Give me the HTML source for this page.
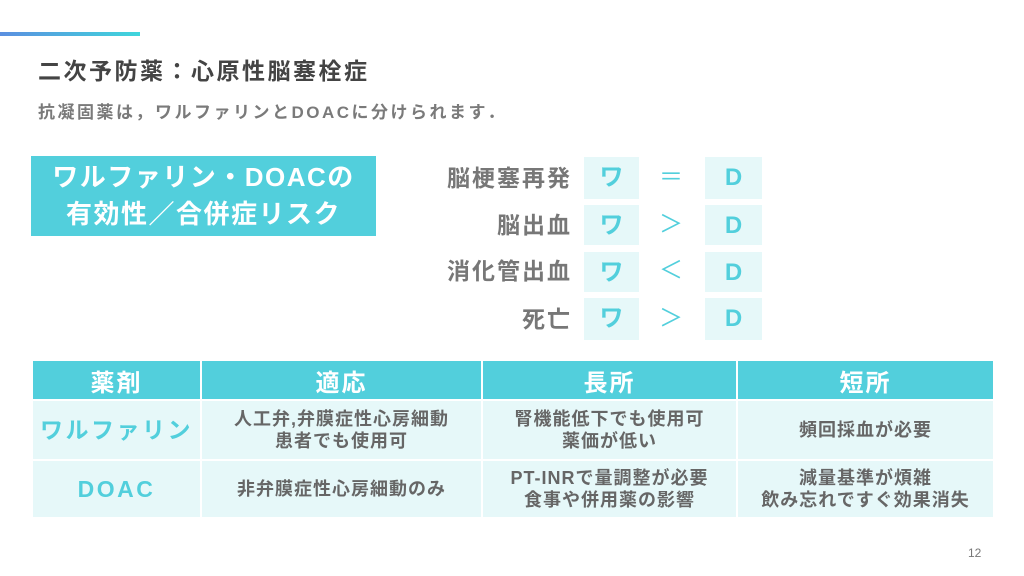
<!DOCTYPE html>
<html><head><meta charset="utf-8"><style>
body{margin:0;width:1024px;height:576px;background:#fff;position:relative;overflow:hidden;font-family:"Liberation Sans","Noto Sans CJK JP",sans-serif;}
.a{position:absolute}
.bar{left:0;top:32px;width:140px;height:4px;background:linear-gradient(90deg,#5b8fe0,#3fd6dc)}
.t{left:38px;top:52px;font-size:23px;font-weight:bold;color:#444;letter-spacing:2.5px}
.s{left:38px;top:98px;font-size:17px;font-weight:bold;color:#7a7a7a;letter-spacing:2.5px}
.box{left:31px;top:156px;width:345px;height:80px;background:#52cfdc;color:#fff;font-size:26px;font-weight:bold;text-align:center;line-height:37px;padding-top:3px;box-sizing:border-box;letter-spacing:1.5px}
.lab{width:200px;left:372px;text-align:right;font-size:23px;font-weight:bold;color:#777;line-height:42px;letter-spacing:2px}
.c{background:#e6f8f9;color:#52cfdc;font-size:24px;font-weight:bold;text-align:center;line-height:42px}
.sg{color:#52cfdc;font-size:24px;width:40px;left:651px;text-align:center;line-height:42px}
table{position:absolute;left:31px;top:359px;border-collapse:collapse;width:962px;table-layout:fixed}
td{border:2px solid #fff;text-align:center;padding:0;color:#666;font-weight:bold;font-size:18px;line-height:22px;background:#e6f8f9;letter-spacing:1px}
th{border:2px solid #fff;background:#52cfdc;color:#fff;font-size:24px;height:38px;font-weight:bold;padding:0;letter-spacing:2px}
.n{color:#52cfdc;font-size:23px;letter-spacing:2.5px}
</style></head><body>
<div class="a bar"></div>
<div class="a t">二次予防薬：心原性脳塞栓症</div>
<div class="a s">抗凝固薬は，ワルファリンとDOACに分けられます．</div>
<div class="a box">ワルファリン・DOACの<br>有効性／合併症リスク</div>

<div class="a lab" style="top:157px">脳梗塞再発</div>
<div class="a lab" style="top:204px">脳出血</div>
<div class="a lab" style="top:250px">消化管出血</div>
<div class="a lab" style="top:298px">死亡</div>

<div class="a c" style="left:584px;top:157px;width:55px;height:42px">ワ</div>
<div class="a c" style="left:584px;top:205px;width:55px;height:40px">ワ</div>
<div class="a c" style="left:584px;top:252px;width:55px;height:40px">ワ</div>
<div class="a c" style="left:584px;top:298px;width:55px;height:42px">ワ</div>
<div class="a c" style="left:705px;top:157px;width:57px;height:42px">D</div>
<div class="a c" style="left:705px;top:205px;width:57px;height:40px">D</div>
<div class="a c" style="left:705px;top:252px;width:57px;height:40px">D</div>
<div class="a c" style="left:705px;top:298px;width:57px;height:42px">D</div>
<div class="a sg" style="top:157px">＝</div>
<div class="a sg" style="top:204px">＞</div>
<div class="a sg" style="top:250px">＜</div>
<div class="a sg" style="top:298px">＞</div>

<table>
<colgroup><col style="width:169px"><col style="width:281px"><col style="width:255px"><col style="width:257px"></colgroup>
<tr><th>薬剤</th><th>適応</th><th>長所</th><th>短所</th></tr>
<tr style="height:60px"><td class="n">ワルファリン</td><td>人工弁,弁膜症性心房細動<br>患者でも使用可</td><td>腎機能低下でも使用可<br>薬価が低い</td><td>頻回採血が必要</td></tr>
<tr style="height:58px"><td class="n">DOAC</td><td>非弁膜症性心房細動のみ</td><td>PT-INRで量調整が必要<br>食事や併用薬の影響</td><td>減量基準が煩雑<br>飲み忘れですぐ効果消失</td></tr>
</table>
<div class="a" style="left:968px;top:546px;font-size:12px;color:#777">12</div>
</body></html>
